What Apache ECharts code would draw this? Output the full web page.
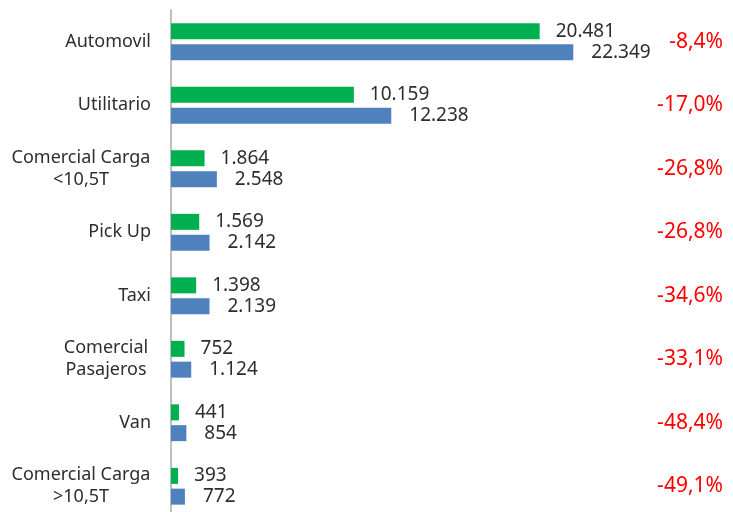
<!DOCTYPE html>
<html>
<head>
<meta charset="utf-8">
<script src="https://cdn.jsdelivr.net/npm/echarts@6/dist/echarts.min.js"></script>
<style>
  html, body { margin: 0; padding: 0; background: #fff; overflow: hidden; }
  #main { width: 733px; height: 530px; }
</style>
</head>
<body>
<div id="main"></div>
<script>
// categorias (de arriba a abajo)
const categories = ['Automovil', 'Utilitario', 'Comercial Carga\n<10,5T', 'Pick Up', 'Taxi', 'Comercial\nPasajeros', 'Van', 'Comercial Carga\n>10,5T'];
const actual = [20481, 10159, 1864, 1569, 1398, 752, 441, 393];
const anterior = [22349, 12238, 2548, 2142, 2139, 1124, 854, 772];
const variacion = ['-8,4%', '-17,0%', '-26,8%', '-26,8%', '-34,6%', '-33,1%', '-48,4%', '-49,1%'];

const FONT = 'Noto Sans';
const TXT = '#2e2e2e';

// 20481 -> "20.481"
function miles(v) {
  return String(v).replace(/\B(?=(\d{3})+(?!\d))/g, '.');
}

let chart = echarts.init(document.getElementById('main'));
chart.setOption({
  animation: false,
  grid: { left: 171, width: 450, top: 10, height: 508, containLabel: false },
  xAxis: {
    type: 'value', min: 0, max: 25000,
    show: false
  },
  yAxis: [{
    type: 'category',
    inverse: true,
    data: categories,
    axisLine: { show: true, lineStyle: { color: '#BFBFBF', width: 2 } },
    axisTick: { show: false },
    axisLabel: {
      margin: 20,
      color: TXT,
      fontFamily: FONT,
      fontSize: 18,
      lineHeight: 22,
      formatter: function (v) {
        // lineas centradas en etiquetas de dos renglones
        if (v.indexOf('\n') < 0) return v;
        let w = v.indexOf('Carga') >= 0 ? 140 : 90;
        return v.split('\n').map(s => '{c' + w + '|' + s + '}').join('\n');
      },
      rich: {
        c140: { width: 140, align: 'center', fontSize: 18, lineHeight: 22, color: TXT, fontFamily: FONT },
        c90: { width: 90, align: 'center', fontSize: 18, lineHeight: 22, color: TXT, fontFamily: FONT }
      }
    }
  }, {
    type: 'category',
    inverse: true,
    position: 'right',
    data: variacion,
    axisLine: { show: false },
    axisTick: { show: false },
    axisLabel: {
      align: 'right',
      margin: 102,
      color: '#FF0000',
      fontFamily: FONT,
      fontSize: 21
    }
  }],
  series: [{
    name: 'actual',
    type: 'bar',
    data: actual,
    barWidth: 16,
    barGap: '30%',
    itemStyle: { color: '#00B050' },
    label: {
      show: true, position: 'right', distance: 16,
      color: TXT, fontFamily: FONT, fontSize: 19,
      formatter: p => miles(p.value)
    }
  }, {
    name: 'anterior',
    type: 'bar',
    data: anterior,
    barWidth: 16,
    itemStyle: { color: '#4F81BD' },
    label: {
      show: true, position: 'right', distance: 18,
      color: TXT, fontFamily: FONT, fontSize: 19,
      formatter: p => miles(p.value)
    }
  }]
});
</script>
</body>
</html>
